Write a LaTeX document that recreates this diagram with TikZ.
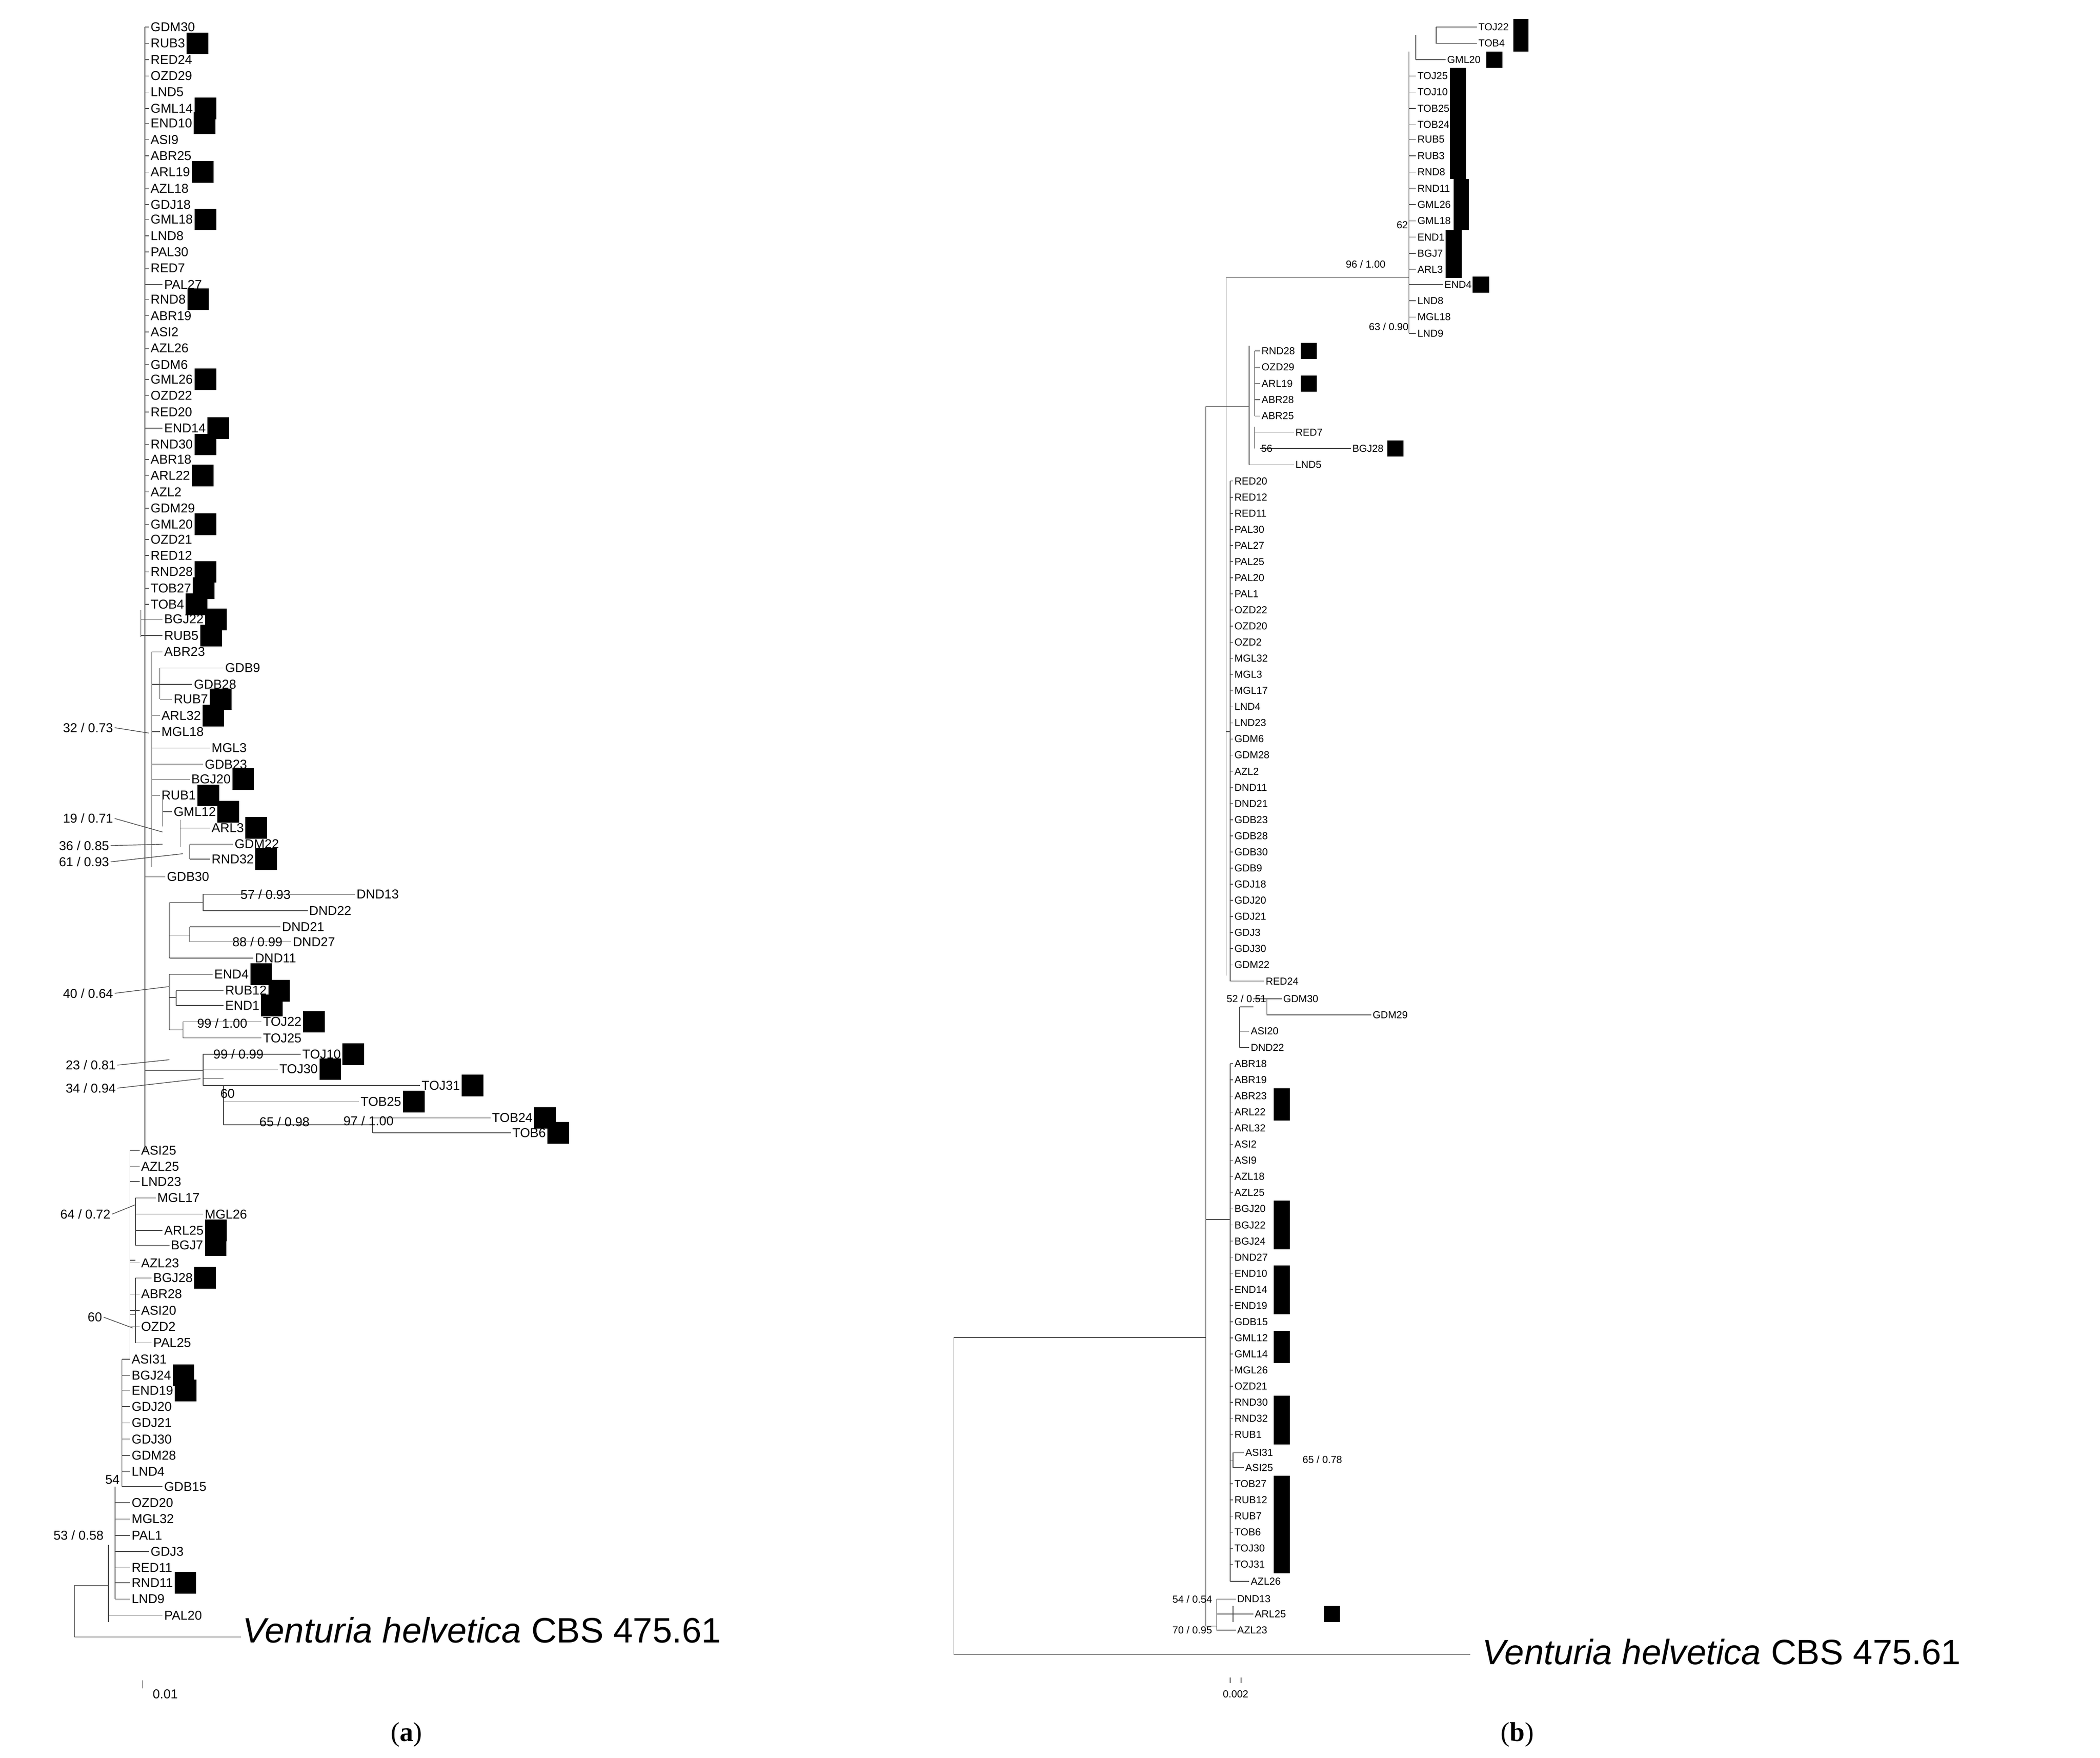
\documentclass[tikz,border=0pt]{standalone}
\usepackage{fontspec}
\setmainfont{Liberation Sans}
\newfontfamily\serifx{Liberation Serif}
\begin{document}
\begin{tikzpicture}[x=1pt,y=-1pt,
 br/.style={draw=black!70,line width=0.5pt},
 lab/.style={anchor=west,inner sep=1pt,font=\fontsize{9.5}{10}\selectfont},
 labb/.style={anchor=west,inner sep=1pt,font=\fontsize{7.5}{8}\selectfont},
 ann/.style={inner sep=1pt,font=\fontsize{9.5}{10}\selectfont},
 annb/.style={inner sep=1pt,font=\fontsize{7.5}{8}\selectfont},
 big/.style={anchor=west,inner sep=1pt,font=\fontsize{26}{28}\selectfont}]
\useasboundingbox (0,0) rectangle (1550,1297);
% ---------- tree (a) ----------
\foreach \px/\x/\y/\t/\b in {
107/110/20/GDM30/0,107/110/32/RUB3/1,107/110/44/RED24/0,107/110/56/OZD29/0,107/110/68/LND5/0,
107/110/80/GML14/1,107/110/91/END10/1,107/110/103/ASI9/0,107/110/115/ABR25/0,107/110/127/ARL19/1,
107/110/139/AZL18/0,107/110/151/GDJ18/0,107/110/162/GML18/1,107/110/174/LND8/0,107/110/186/PAL30/0,
107/110/198/RED7/0,107/120/210/PAL27/0,107/110/221/RND8/1,107/110/233/ABR19/0,107/110/245/ASI2/0,
107/110/257/AZL26/0,107/110/269/GDM6/0,107/110/280/GML26/1,107/110/292/OZD22/0,107/110/304/RED20/0,
107/120/316/END14/1,107/110/328/RND30/1,107/110/339/ABR18/0,107/110/351/ARL22/1,107/110/363/AZL2/0,
107/110/375/GDM29/0,107/110/387/GML20/1,107/110/398/OZD21/0,107/110/410/RED12/0,107/110/422/RND28/1,
107/110/434/TOB27/1,107/110/446/TOB4/1,104/120/457/BGJ22/1,104/120/469/RUB5/1,112/120/481/ABR23/0,
118/165/493/GDB9/0,118/142/505/GDB28/0,118/127/516/RUB7/1,112/118/528/ARL32/1,112/118/540/MGL18/0,
112/155/552/MGL3/0,112/150/564/GDB23/0,112/140/575/BGJ20/1,112/118/587/RUB1/1,120/127/599/GML12/1,
133/155/611/ARL3/1,140/172/623/GDM22/0,140/155/634/RND32/1,107/122/647/GDB30/0,
150/262/660/DND13/0,150/227/672/DND22/0,140/207/684/DND21/0,140/215/695/DND27/0,125/187/707/DND11/0,
125/157/719/END4/1,130/165/731/RUB12/1,130/165/742/END1/1,135/193/754/TOJ22/1,135/193/766/TOJ25/0,
150/222/778/TOJ10/1,150/205/789/TOJ30/1,150/310/801/TOJ31/1,165/265/813/TOB25/1,275/362/825/TOB24/1,
275/377/836/TOB6/1,
96/103/849/ASI25/0,96/103/861/AZL25/0,96/103/872/LND23/0,100/115/884/MGL17/0,100/150/896/MGL26/0,
100/120/908/ARL25/1,100/125/919/BGJ7/1,96/103/932/AZL23/0,100/112/943/BGJ28/1,96/103/955/ABR28/0,
96/103/967/ASI20/0,96/103/979/OZD2/0,100/112/991/PAL25/0,90/96/1003/ASI31/0,90/96/1015/BGJ24/1,
90/96/1026/END19/1,90/96/1038/GDJ20/0,90/96/1050/GDJ21/0,90/96/1062/GDJ30/0,90/96/1074/GDM28/0,
90/96/1086/LND4/0,90/120/1097/GDB15/0,85/96/1109/OZD20/0,85/96/1121/MGL32/0,85/96/1133/PAL1/0,
85/110/1145/GDJ3/0,85/96/1157/RED11/0,85/96/1168/RND11/1,85/96/1180/LND9/0,80/120/1192/PAL20/0}
{\draw[br] (\px,\y) -- (\x,\y);
 \node[lab] (a-\t) at (\x,\y) {\t};
 \ifnum\b=1 \fill (a-\t.east) ++(0,-8) rectangle ++(16,16); \fi}
\draw[br] (107,20) -- (107,850);
\draw[br] (104,450) -- (104,470) (112,481) -- (112,640) (118,493) -- (118,516)
 (112,505) -- (118,505) (120,590) -- (120,610) (133,605) -- (133,625) (140,623) -- (140,634)
 (107,647) -- (107,800) (150,660) -- (150,672) (140,684) -- (140,695) (125,666) -- (125,707)
 (125,666) -- (150,666) (125,690) -- (140,690) (125,719) -- (125,760) (130,731) -- (130,742)
 (135,754) -- (135,766) (150,778) -- (150,801) (165,801) -- (165,830) (275,825) -- (275,836)
 (165,830) -- (275,830) (150,796) -- (165,796) (125,736) -- (130,736) (125,760) -- (135,760)
 (107,790) -- (150,790);
\draw[br] (96,849) -- (96,1003) (100,884) -- (100,919) (100,943) -- (100,991) (90,1003) -- (90,1097)
 (85,1097) -- (85,1180) (80,1140) -- (80,1197) (96,930) -- (100,930) (96,970) -- (100,970);
\draw[br] (55,1170) -- (55,1208) (55,1170) -- (80,1170) (55,1208) -- (178,1208);
\node[big] (va) at (178,1203) {\textit{Venturia helvetica} CBS 475.61};
\foreach \tx/\xx/\yy/\lx/\ly [count=\i] in {{32 / 0.73}/65/537/110/541, {19 / 0.71}/65/604/120/614,
 {36 / 0.85}/62/624/120/623, {61 / 0.93}/62/636/135/630, {40 / 0.64}/65/733/125/728,
 {23 / 0.81}/67/786/125/782, {34 / 0.94}/67/803/148/796, {64 / 0.72}/63/896/100/889, {60}/70/972/98/980}
{\node[ann] (an\i) at (\xx,\yy) {\tx}; \draw[br] (an\i.east) -- (\lx,\ly);}
\foreach \tx/\xx/\yy [count=\i] in {{57 / 0.93}/196/660, {88 / 0.99}/190/695, {99 / 1.00}/164/755,
 {99 / 0.99}/176/778, {60}/168/807, {65 / 0.98}/210/828, {97 / 1.00}/272/827, {54}/83/1092, {53 / 0.58}/58/1133}
{\node[ann] (ao\i) at (\xx,\yy) {\tx};}
\draw[br] (105,1246) -- (105,1240);
\node[ann] (sa) at (122,1250) {0.01};
\node[inner sep=1pt,font=\serifx\fontsize{20}{22}\selectfont] (pa) at (300,1280) {(\textbf{a})};
% ---------- tree (b) ----------
\foreach \px/\x/\y/\t in {
1060/1090/20/TOJ22,1060/1090/32/TOB4,1045/1067/44/GML20,1040/1045/56/TOJ25,1040/1045/68/TOJ10,
1040/1045/80/TOB25,1040/1045/92/TOB24,1040/1045/103/RUB5,1040/1045/115/RUB3,1040/1045/127/RND8,
1040/1045/139/RND11,1040/1045/151/GML26,1040/1045/163/GML18,1040/1045/175/END1,1040/1045/187/BGJ7,
1040/1045/199/ARL3,1040/1065/210/END4,1040/1045/222/LND8,1040/1045/234/MGL18,1040/1045/246/LND9,
926/930/259/RND28,926/930/271/OZD29,926/930/283/ARL19,926/930/295/ABR28,926/930/307/ABR25,
926/955/319/RED7,930/997/331/BGJ28,922/955/343/LND5,
908/933/724/RED24,925/946/737/GDM30,935/1012/749/GDM29,915/922/761/ASI20,915/922/773/DND22,
910/918/1072/ASI31,910/918/1083/ASI25,908/922/1167/AZL26,898/912/1180/DND13,910/925/1191/ARL25,
898/912/1203/AZL23}
{\draw[br] (\px,\y) -- (\x,\y); \node[labb] (b-\t) at (\x,\y) {\t};}
\foreach \t [count=\i] in {RED20,RED12,RED11,PAL30,PAL27,PAL25,PAL20,PAL1,OZD22,OZD20,OZD2,MGL32,
 MGL3,MGL17,LND4,LND23,GDM6,GDM28,AZL2,DND11,DND21,GDB23,GDB28,GDB30,GDB9,GDJ18,GDJ20,GDJ21,GDJ3,
 GDJ30,GDM22}
{\pgfmathsetmacro\yy{355+(\i-1)*11.9}\draw[br] (908,\yy) -- (910,\yy); \node[labb] (b-\t) at (910,\yy) {\t};}
\foreach \t [count=\i] in {ABR18,ABR19,ABR23,ARL22,ARL32,ASI2,ASI9,AZL18,AZL25,BGJ20,BGJ22,BGJ24,
 DND27,END10,END14,END19,GDB15,GML12,GML14,MGL26,OZD21,RND30,RND32,RUB1}
{\pgfmathsetmacro\yy{785+(\i-1)*11.9}\draw[br] (908,\yy) -- (910,\yy); \node[labb] (b-\t) at (910,\yy) {\t};}
\foreach \t [count=\i] in {TOB27,RUB12,RUB7,TOB6,TOJ30,TOJ31}
{\pgfmathsetmacro\yy{1095+(\i-1)*11.9}\draw[br] (908,\yy) -- (910,\yy); \node[labb] (b-\t) at (910,\yy) {\t};}
% boxes (b)
\fill (1117,14) rectangle (1128,38);
\fill (1097,38) rectangle (1109,50);
\fill (1070,50) rectangle (1082,132);
\fill (1073,132) rectangle (1084,170);
\fill (1067,170) rectangle (1079,205);
\fill (1087,204) rectangle (1099,216);
\fill (960,253) rectangle (972,265);
\fill (960,277) rectangle (972,289);
\fill (1024,325) rectangle (1036,337);
\fill (940,803) rectangle (952,827);
\fill (940,886) rectangle (952,922);
\fill (940,934) rectangle (952,970);
\fill (940,982) rectangle (952,1006);
\fill (940,1030) rectangle (952,1066);
\fill (940,1089) rectangle (952,1161);
\fill (977,1185) rectangle (989,1197);
% verticals (b)
\draw[br] (1060,20) -- (1060,32) (1045,26) -- (1045,44) (1040,38) -- (1040,246)
 (905,205) -- (1040,205) (905,205) -- (905,720) (926,259) -- (926,307) (922,255) -- (922,343)
 (905,300) -- (922,300) (926,315) -- (926,331) (908,355) -- (908,724) (905,540) -- (908,540)
 (925,737) -- (935,737) (935,737) -- (935,749) (915,743) -- (925,743) (915,743) -- (915,773)
 (890,300) -- (890,1200) (890,300) -- (905,300) (908,785) -- (908,1167) (890,900) -- (908,900)
 (910,1072) -- (910,1083) (908,1078) -- (910,1078) (898,1180) -- (898,1203) (910,1185) -- (910,1197)
 (898,1191) -- (910,1191) (890,1200) -- (898,1200);
\draw[br] (704,987) -- (890,987) (704,987) -- (704,1221) (704,1221) -- (1085,1221);
\node[big] (vb) at (1093,1219) {\textit{Venturia helvetica} CBS 475.61};
\foreach \tx/\xx/\yy [count=\i] in {{62}/1035/166, {96 / 1.00}/1008/195, {63 / 0.90}/1025/241, {56}/935/331,
 {52 / 0.51}/920/737, {65 / 0.78}/976/1077, {54 / 0.54}/880/1180, {70 / 0.95}/880/1203}
{\node[annb] (bo\i) at (\xx,\yy) {\tx};}
\draw[br] (908,1242) -- (908,1238) (916,1242) -- (916,1238);
\node[annb] (sb) at (912,1250) {0.002};
\node[inner sep=1pt,font=\serifx\fontsize{20}{22}\selectfont] (pb) at (1120,1280) {(\textbf{b})};
\end{tikzpicture}
\end{document}
